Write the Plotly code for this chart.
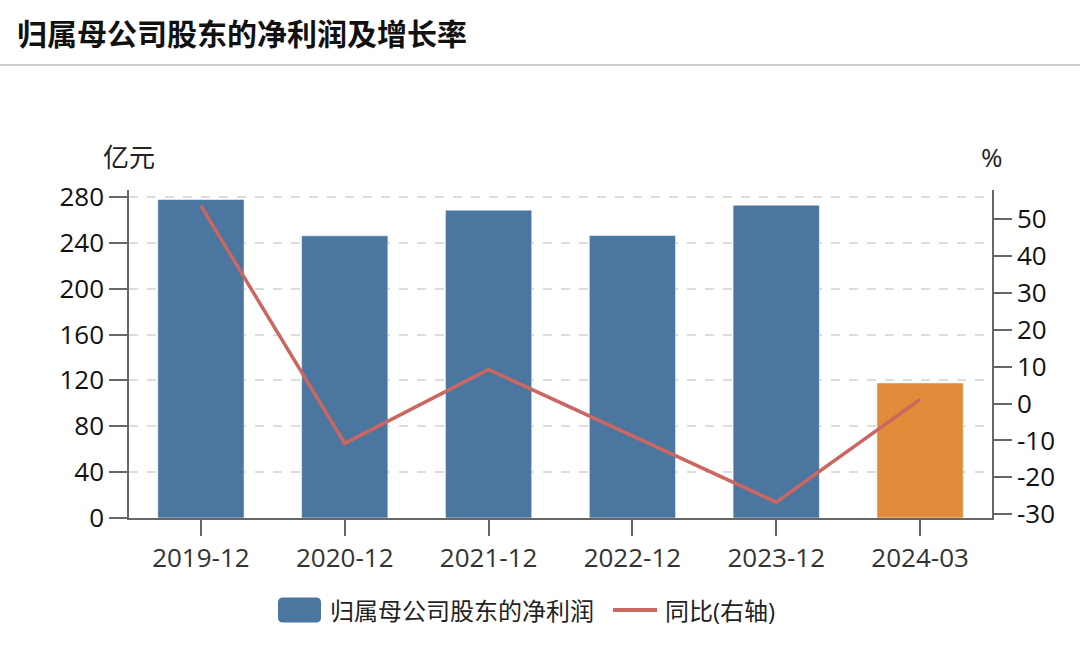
import plotly.graph_objects as go

categories = ["2019-12", "2020-12", "2021-12", "2022-12", "2023-12", "2024-03"]
profit = [277.7, 246.0, 268.4, 246.3, 272.8, 117.8]
growth = [53.5, -10.8, 9.2, -8.8, -26.7, 1.1]
left_ticks = [0, 40, 80, 120, 160, 200, 240, 280]
right_ticks = [-30, -20, -10, 0, 10, 20, 30, 40, 50]
right_tick_labels = ["-30", "-20", "-10", "0", "10", "20", "30", "40", "50"]
bar_name = "归属母公司股东的净利润"
line_name = "同比(右轴)"

BLUE = "#4a76a0"
ORANGE = "#e08c3a"
RED = "#cc6661"
FONT = "Open Sans, Noto Sans CJK SC, sans-serif"
bar_colors = [BLUE] * (len(categories) - 1) + [ORANGE]

# plot area in pixels (for layout helpers)
L, R, T, B = 129, 992, 190, 518
PW, PH = R - L, B - T


def px(xp):
    return (xp - L) / PW


def py(yp):
    return (B - yp) / PH


fig = go.Figure()
fig.add_trace(go.Bar(
    x=categories, y=profit, name=bar_name,
    marker=dict(color=bar_colors, line=dict(color="rgba(255,255,255,0.55)", width=1)),
    width=0.6, yaxis="y", showlegend=False,
))
fig.add_trace(go.Scatter(
    x=categories, y=growth, name=line_name, mode="lines",
    line=dict(color=RED, width=3.5), yaxis="y2", showlegend=False,
))

# custom legend geometry (pixels)
leg_y = 610
box_x0, box_x1, box_h, rad = 278, 321, 25, 5
bx0, bx1 = px(box_x0), px(box_x1)
by0, by1 = py(leg_y + box_h / 2), py(leg_y - box_h / 2)
rx, ry = rad / PW, rad / PH
box_path = (
    f"M {bx0 + rx},{by0} L {bx1 - rx},{by0} Q {bx1},{by0} {bx1},{by0 + ry} "
    f"L {bx1},{by1 - ry} Q {bx1},{by1} {bx1 - rx},{by1} "
    f"L {bx0 + rx},{by1} Q {bx0},{by1} {bx0},{by1 - ry} "
    f"L {bx0},{by0 + ry} Q {bx0},{by0} {bx0 + rx},{by0} Z"
)

fig.update_layout(
    width=1080, height=645,
    margin=dict(l=L, r=1080 - R, t=T, b=645 - B),
    paper_bgcolor="white", plot_bgcolor="white",
    font=dict(family=FONT, size=26, color="#222"),
    showlegend=False,
    title=dict(
        text="<b>归属母公司股东的净利润及增长率</b>",
        font=dict(family="Noto Sans CJK SC, sans-serif", size=30, color="#111"),
        x=17 / 1080, xanchor="left", xref="container",
        y=1 - 34 / 645, yanchor="middle", yref="container",
    ),
    xaxis=dict(
        type="category", showline=True, linecolor="#666", linewidth=1.5,
        ticks="outside", ticklen=16, tickcolor="#666", tickwidth=1.5,
        tickfont=dict(size=26, color="#333"), showgrid=False,
        range=[-0.5, 5.5],
    ),
    yaxis=dict(
        range=[0, 286], tickvals=left_ticks, showline=True, linecolor="#666",
        linewidth=1.5, ticks="outside", ticklen=18, tickcolor="#666", tickwidth=1.5,
        tickfont=dict(size=26, color="#111"),
        showgrid=True, gridcolor="#dcdcdc", griddash="dash", gridwidth=1.5,
        zeroline=False,
    ),
    yaxis2=dict(
        range=[-31, 57.8], tickvals=right_ticks, ticktext=right_tick_labels,
        overlaying="y", side="right",
        showline=True, linecolor="#666", linewidth=1.5, ticks="outside", ticklen=18,
        tickcolor="#666", tickwidth=1.5, tickfont=dict(size=26, color="#111"),
        showgrid=False, zeroline=False,
    ),
    annotations=[
        dict(text="亿元", xref="paper", yref="paper", x=0, y=py(157),
             xanchor="center", yanchor="middle", showarrow=False,
             font=dict(size=26, color="#222")),
        dict(text="%", xref="paper", yref="paper", x=1, y=py(157),
             xanchor="center", yanchor="middle", showarrow=False,
             font=dict(size=26, color="#222")),
        dict(text=bar_name, xref="paper", yref="paper", x=px(328), y=py(leg_y),
             xanchor="left", yanchor="middle", showarrow=False,
             font=dict(size=24, color="#222")),
        dict(text=line_name, xref="paper", yref="paper", x=px(663), y=py(leg_y),
             xanchor="left", yanchor="middle", showarrow=False,
             font=dict(size=24, color="#222")),
    ],
    shapes=[
        dict(type="line", xref="paper", yref="paper",
             x0=px(0), x1=px(1080), y0=py(65), y1=py(65),
             line=dict(color="#cccccc", width=2)),
        dict(type="path", xref="paper", yref="paper", path=box_path,
             fillcolor=BLUE, line=dict(width=0)),
        dict(type="line", xref="paper", yref="paper",
             x0=px(613), x1=px(657), y0=py(leg_y), y1=py(leg_y),
             line=dict(color=RED, width=4)),
    ],
)

fig.write_html("out.html")
